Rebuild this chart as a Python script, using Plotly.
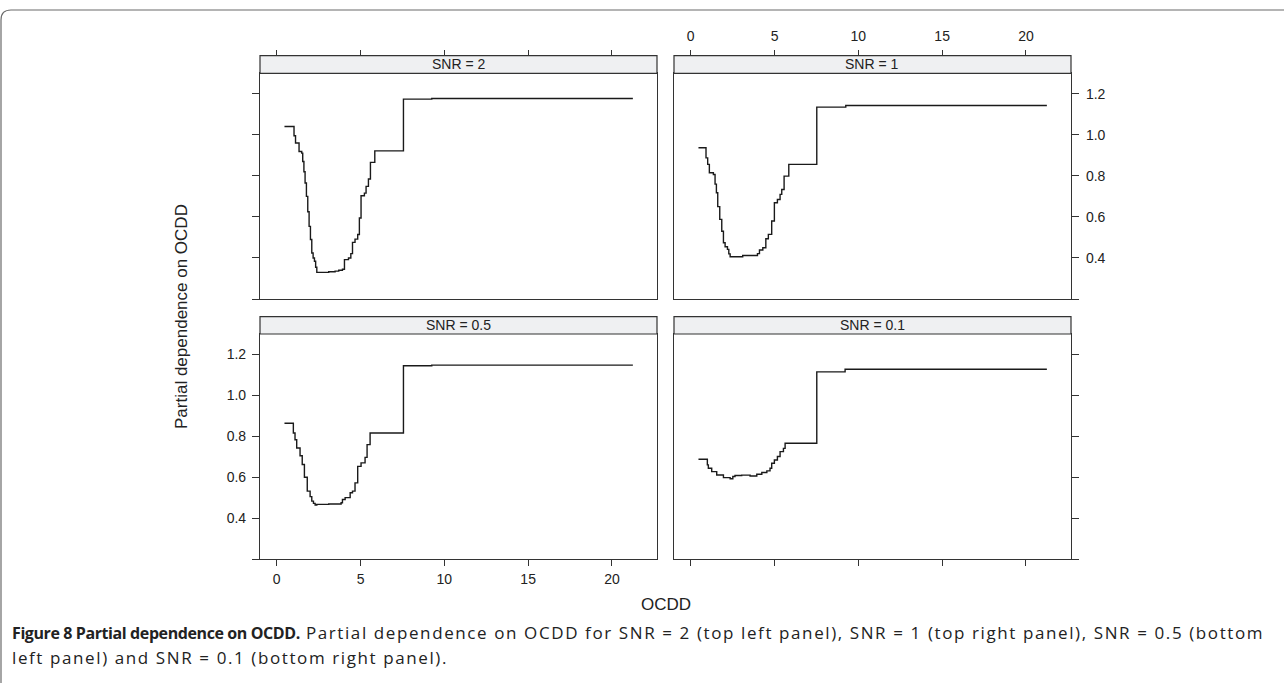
import plotly.graph_objects as go

# ---- partial dependence curves (step functions, OCDD vs. fitted effect) ----
snr_labels = ["SNR = 2", "SNR = 1", "SNR = 0.5", "SNR = 0.1"]

ocdd_snr2 = [0.46, 1.03, 1.12, 1.33, 1.49, 1.55, 1.62, 1.69, 1.77, 1.85, 1.93, 2.01,
             2.09, 2.17, 2.25, 2.32, 2.39, 3.10, 3.48, 3.70, 3.92, 4.04, 4.28, 4.42,
             4.52, 4.67, 4.83, 4.93, 5.03, 5.23, 5.33, 5.47, 5.59, 5.85, 7.56, 9.25, 21.25]
pd_snr2 = [1.041, 0.996, 0.960, 0.919, 0.911, 0.870, 0.820, 0.765, 0.700, 0.625, 0.554, 0.490,
           0.424, 0.400, 0.384, 0.355, 0.330, 0.333, 0.336, 0.340, 0.345, 0.392, 0.400, 0.421,
           0.476, 0.492, 0.514, 0.595, 0.703, 0.716, 0.749, 0.785, 0.866, 0.922, 1.174, 1.177, 1.177]

ocdd_snr1 = [0.46, 0.91, 1.01, 1.11, 1.35, 1.45, 1.53, 1.61, 1.73, 1.85, 1.95, 2.05,
             2.19, 2.27, 2.35, 3.10, 3.98, 4.10, 4.30, 4.48, 4.63, 4.83, 4.99, 5.17,
             5.33, 5.43, 5.57, 5.85, 7.52, 9.25, 21.25]
pd_snr1 = [0.937, 0.888, 0.856, 0.815, 0.807, 0.760, 0.718, 0.650, 0.588, 0.530, 0.474, 0.455,
           0.442, 0.420, 0.406, 0.412, 0.421, 0.439, 0.450, 0.494, 0.515, 0.580, 0.669, 0.685,
           0.710, 0.734, 0.799, 0.856, 1.135, 1.143, 1.143]

ocdd_snr05 = [0.46, 0.99, 1.09, 1.19, 1.39, 1.52, 1.65, 1.82, 1.99, 2.09, 2.19, 2.29,
              2.39, 3.10, 3.84, 3.92, 4.08, 4.38, 4.52, 4.67, 4.83, 5.03, 5.27, 5.39,
              5.57, 5.83, 7.56, 9.25, 21.25]
pd_snr05 = [0.864, 0.816, 0.783, 0.743, 0.705, 0.662, 0.600, 0.532, 0.505, 0.483, 0.472, 0.464,
            0.467, 0.469, 0.475, 0.491, 0.500, 0.524, 0.532, 0.572, 0.653, 0.670, 0.697, 0.759,
            0.816, 0.816, 1.145, 1.148, 1.148]

ocdd_snr01 = [0.46, 0.99, 1.05, 1.25, 1.55, 1.95, 2.35, 2.51, 2.64, 3.04, 3.54, 3.94,
              4.24, 4.54, 4.73, 4.83, 4.99, 5.17, 5.33, 5.53, 5.63, 5.83, 7.52, 9.21, 21.25]
pd_snr01 = [0.688, 0.660, 0.644, 0.627, 0.611, 0.598, 0.592, 0.603, 0.608, 0.610, 0.606, 0.614,
            0.623, 0.631, 0.644, 0.668, 0.684, 0.701, 0.725, 0.741, 0.766, 0.766, 1.115, 1.128, 1.128]

x_ticks = [0, 5, 10, 15, 20]
y_ticks = [0.2, 0.4, 0.6, 0.8, 1.0, 1.2]
y_tick_text = ["", "0.4", "0.6", "0.8", "1.0", "1.2"]

x_title = "OCDD"
y_title = "Partial dependence on OCDD"
caption_bold = "Figure 8 Partial dependence on OCDD."
caption_line1 = (" Partial dependence on OCDD for SNR = 2 (top left panel), "
                 "SNR = 1 (top right panel), SNR = 0.5 (bottom")
caption_line2 = "left panel) and SNR = 0.1 (bottom right panel)."

# ---- page geometry (pixels) ----
W, H = 1284, 683
COLS = [(260, 657), (674, 1071)]
ROWS = [(73.3, 299), (334, 559)]
STRIPS = [(55.7, 73.3), (316.7, 334)]
X_RANGE = [-1.0, 22.69]
Y_RANGE = [0.2, 1.3]

INK = "#222222"
FRAME = "#333333"
SANS = "Liberation Sans, Arial, sans-serif"
TICK_FONT = dict(family=SANS, size=14, color=INK)


def fx(p):
    return p / W


def fy(p):
    return 1 - p / H


fig = go.Figure()

series = [(ocdd_snr2, pd_snr2), (ocdd_snr1, pd_snr1),
          (ocdd_snr05, pd_snr05), (ocdd_snr01, pd_snr01)]

for i, (xs, ys) in enumerate(series):
    fig.add_trace(go.Scatter(
        x=xs, y=ys, mode="lines",
        line=dict(color="#1a1a1a", width=1.4, shape="hv"),
        xaxis="x" if i == 0 else f"x{i+1}",
        yaxis="y" if i == 0 else f"y{i+1}",
        showlegend=False, hoverinfo="skip",
    ))

# placeholder traces so the top tick axes above the strips are rendered
for xa, ya in (("x5", "y"), ("x6", "y2")):
    fig.add_trace(go.Scatter(x=[None], y=[None], mode="lines", xaxis=xa, yaxis=ya,
                             showlegend=False, hoverinfo="skip"))

base_x = dict(range=X_RANGE, showgrid=False, zeroline=False, showline=True,
              linecolor=FRAME, linewidth=1.2, mirror=True, tickvals=x_ticks,
              tickcolor=FRAME, ticklen=6, tickwidth=1.2, tickfont=TICK_FONT,
              ticklabelstandoff=1, fixedrange=True)
base_y = dict(range=Y_RANGE, showgrid=False, zeroline=False, showline=True,
              linecolor=FRAME, linewidth=1.2, mirror=True, tickvals=y_ticks,
              ticktext=y_tick_text, tickcolor=FRAME, ticklen=7, tickwidth=1.2,
              tickfont=TICK_FONT, fixedrange=True)

layout_axes = {}
panel_spec = [
    # (row, col, bottom ticks, bottom labels, y side, y ticks, y labels)
    (0, 0, False, False, "left", True, False),
    (0, 1, False, False, "right", True, True),
    (1, 0, True, True, "left", True, True),
    (1, 1, True, False, "right", True, False),
]
for i, (r, c, xt, xl, yside, yt, yl) in enumerate(panel_spec):
    n = "" if i == 0 else str(i + 1)
    xd = [fx(COLS[c][0]), fx(COLS[c][1])]
    yd = [fy(ROWS[r][1]), fy(ROWS[r][0])]
    layout_axes[f"xaxis{n}"] = dict(base_x, domain=xd, anchor=f"y{n}",
                                    ticks="outside" if xt else "", showticklabels=xl)
    layout_axes[f"yaxis{n}"] = dict(base_y, domain=yd, anchor=f"x{n}", side=yside,
                                    ticklabelstandoff=3 if yside == "left" else 4,
                                    ticks="outside" if yt else "", showticklabels=yl)

# tick axes sitting on top of the strips in the first row
layout_axes["xaxis5"] = dict(base_x, overlaying="x", anchor="free", side="top",
                             position=fy(STRIPS[0][0]), showline=False, mirror=False,
                             ticks="outside", showticklabels=False)
layout_axes["xaxis6"] = dict(base_x, overlaying="x2", anchor="free", side="top",
                             position=fy(STRIPS[0][0]), showline=False, mirror=False,
                             ticks="outside", showticklabels=True, ticklabelstandoff=3)

shapes = []
annotations = []
k = 0
for r in range(2):
    for c in range(2):
        shapes.append(dict(type="rect", xref="paper", yref="paper",
                           x0=fx(COLS[c][0]), x1=fx(COLS[c][1]),
                           y0=fy(STRIPS[r][1]), y1=fy(STRIPS[r][0]),
                           fillcolor="#eff0f2", line=dict(color=FRAME, width=1.2)))
        annotations.append(dict(text=snr_labels[k], xref="paper", yref="paper",
                                x=fx((COLS[c][0] + COLS[c][1]) / 2),
                                y=fy((STRIPS[r][0] + STRIPS[r][1]) / 2),
                                showarrow=False, xanchor="center", yanchor="middle",
                                font=dict(family=SANS, size=14, color=INK)))
        k += 1

# outer figure frame with a rounded top-left corner
rad = 10
x_l, y_t = 1.0, 10.0
frame_path = (f"M {fx(x_l)},{fy(H + 5)} L {fx(x_l)},{fy(y_t + rad)} "
              f"Q {fx(x_l)},{fy(y_t)} {fx(x_l + rad)},{fy(y_t)} L {fx(W + 5)},{fy(y_t)}")
shapes.append(dict(type="path", xref="paper", yref="paper", path=frame_path,
                   line=dict(color="#6b6b6b", width=1.2)))

annotations.append(dict(text=x_title, xref="paper", yref="paper", x=fx(666), y=fy(604),
                        showarrow=False, xanchor="center", yanchor="middle",
                        font=dict(family=SANS, size=17, color=INK)))
annotations.append(dict(text=y_title, xref="paper", yref="paper", x=fx(181), y=fy(316),
                        showarrow=False, xanchor="center", yanchor="middle", textangle=-90,
                        font=dict(family=SANS, size=17, color=INK)))

# caption text (bold lead-in, then body text set slightly open)
cap_font = dict(family="Open Sans, Noto Sans, sans-serif", size=17, color=INK)
lead_style = "font-size:16px;letter-spacing:-0.4px"
body_style = "letter-spacing:1.6px"
annotations.append(dict(text=(f"<b><span style='{lead_style}'>{caption_bold}</span></b>"
                              f"<span style='{body_style}'>{caption_line1}</span>"),
                        xref="paper", yref="paper",
                        x=fx(10), y=fy(632), showarrow=False, xanchor="left", yanchor="middle",
                        font=cap_font))
annotations.append(dict(text=f"<span style='{body_style}'>{caption_line2}</span>",
                        xref="paper", yref="paper",
                        x=fx(10), y=fy(657), showarrow=False, xanchor="left", yanchor="middle",
                        font=cap_font))

fig.update_layout(
    width=W, height=H,
    margin=dict(l=0, r=0, t=0, b=0),
    paper_bgcolor="white", plot_bgcolor="white",
    showlegend=False,
    shapes=shapes, annotations=annotations,
    **layout_axes,
)

fig.write_html("out.html")
